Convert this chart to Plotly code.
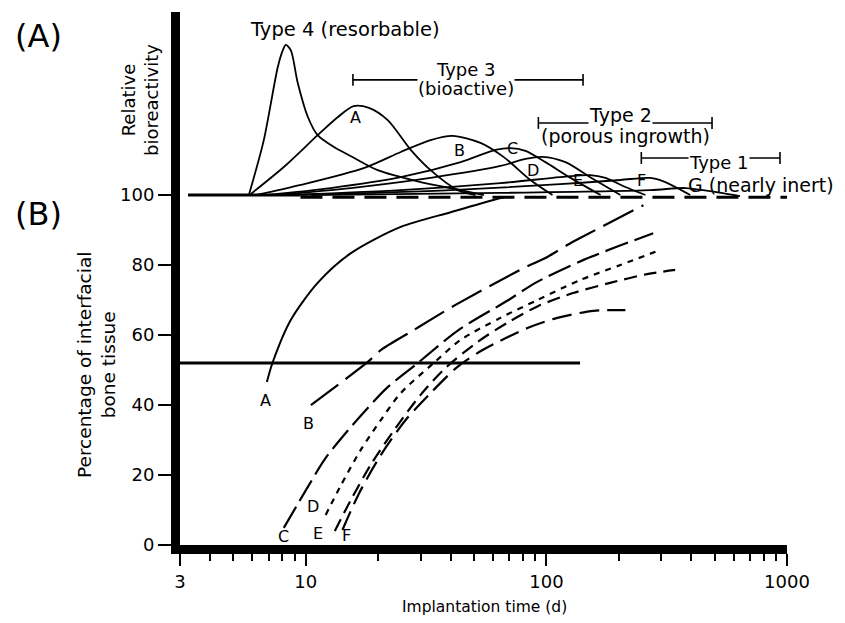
import math
import plotly.graph_objects as go

# ---------------- data ----------------
# Panel A: relative bioactivity curves (x = implantation time in days, y = arbitrary, baseline = 100)
type4_t = [5.8, 6.69, 7.65, 8.03, 8.26, 8.66, 9.26, 10.2, 11.2, 13.1, 15.4, 19.9, 30.0, 44.0, 55.0]
type4_v = [100, 115.7, 136.6, 141.4, 142.9, 141.4, 132, 122.3, 117.1, 113.7, 111.1, 107.1, 103.7, 101.4, 100]

bioA_t = [5.91, 8.10, 11.2, 13.6, 15.8, 18.3, 21.9, 27.3, 33.0, 42.8, 50.8]
bioA_v = [100.3, 108, 117.1, 122.3, 125.4, 124.9, 121.4, 112.9, 107.1, 101.4, 100]

bioB_t = [6.2, 9.53, 17.4, 24.8, 33.0, 40.7, 53.2, 66.3, 85.8, 106]
bioB_v = [100, 102.9, 107.7, 112.3, 115.7, 116.9, 114.9, 110.9, 104.3, 100]

bioC_t = [6.82, 12.7, 24.8, 44.0, 61.4, 70.9, 81.8, 99.1, 126, 168]
bioC_v = [100, 102, 105.1, 109.4, 112.9, 113.4, 112.6, 109.4, 104.9, 100]

bioD_t = [7.51, 15.4, 33.0, 64.4, 81.8, 96.2, 120, 152, 203]
bioD_v = [100, 102, 104.9, 108.3, 110.3, 110.9, 109.4, 105.1, 100]

bioE_t = [8.26, 24.8, 64.4, 114, 152, 176, 213, 258]
bioE_v = [100, 101.4, 103.4, 105.1, 105.7, 104.9, 102.3, 100]

bioF_t = [9.53, 40.0, 114, 203, 270, 312, 396]
bioF_v = [100, 101.4, 103.1, 104.3, 104.9, 103.7, 100]

bioG_t = [10.5, 64.4, 270, 378, 479, 638]
bioG_v = [100, 100.6, 101.4, 102, 101.1, 99.7]

baseline_solid_t = [3.24, 9.5]
baseline_solid_v = [100, 100]
baseline_dash_t = [9.5, 1000]
baseline_dash_v = [99.4, 99.4]

# Type ranges (brackets): [start day, end day, level]
type3_range = [15.7, 142, 132.9]
type2_range = [92.6, 488, 120.6]
type1_range = [248, 935, 110.6]

# Panel B: percentage of interfacial bone tissue
boneA_t = [6.89, 7.29, 8.66, 11.2, 15.4, 24.8, 40.0, 60.3, 67.6]
boneA_v = [46.6, 52.3, 64.3, 74.9, 83.4, 90.9, 95.1, 98.6, 99.4]

boneB_t = [10.5, 18.1, 20.5, 27.3, 34.0, 41.9, 81.8, 99.1, 122, 138, 253]
boneB_v = [40, 52.3, 55.7, 60.9, 64.9, 68.6, 79.4, 82, 85.7, 87.7, 97.1]

boneC_t = [8.10, 10.2, 12.1, 16.6, 21.9, 29.2, 43.1, 69.6, 90.0, 142, 278]
boneC_v = [4.9, 16.6, 24.9, 36.3, 45.1, 52, 61.4, 70, 74.9, 81.4, 89.1]

boneD_t = [12.1, 14.0, 16.9, 20.5, 24.8, 34.0, 44.0, 64.4, 91.8, 138, 203, 297]
boneD_v = [8.6, 17.1, 27.1, 35.7, 43.4, 52, 58.6, 64.9, 70, 75.7, 80, 84.3]

boneE_t = [13.2, 15.4, 18.6, 23.6, 30.0, 38.1, 51.7, 69.6, 92.6, 129, 184, 262, 343]
boneE_v = [4.0, 12.9, 22.9, 33.4, 42.9, 50.6, 58, 63.7, 68.3, 72, 74.9, 77.4, 78.6]

boneF_t = [14.2, 16.6, 20.5, 26.0, 33.0, 42.7, 54.3, 83.4, 111, 157, 213]
boneF_v = [4.3, 14.6, 25.7, 35.7, 43.4, 50.9, 55.7, 62, 64.9, 66.9, 67.1]

bone50_t = [3.0, 138]
bone50_v = [52, 52]

x_tickvals = [3, 10, 100, 1000]
x_ticktext = ["3", "10", "100", "1000"]
x_minor = [4, 5, 6, 7, 8, 9, 20, 30, 40, 50, 60, 70, 80, 90, 200, 300, 400, 500, 600, 700, 800, 900]
y_tickvals = [0, 20, 40, 60, 80, 100]

# ---------------- figure ----------------
FONT = "DejaVu Sans"
OFF = 8                      # page body margin of the html page
W, H = 845 - OFF, 623 - OFF  # figure size so that the page is filled exactly
fig = go.Figure()


def add_line(t, v, width=1.8, dash="solid", shape="spline"):
    fig.add_trace(go.Scatter(
        x=t, y=v, mode="lines",
        line=dict(color="black", width=width, dash=dash, shape=shape,
                  smoothing=0.8 if shape == "spline" else None),
        hoverinfo="skip", showlegend=False))


# panel A
add_line(baseline_solid_t, baseline_solid_v, width=3, shape="linear")
add_line(baseline_dash_t, baseline_dash_v, width=3, dash="22px,10px", shape="linear")
for t, v in [(type4_t, type4_v), (bioA_t, bioA_v), (bioB_t, bioB_v), (bioC_t, bioC_v),
             (bioD_t, bioD_v), (bioE_t, bioE_v), (bioF_t, bioF_v), (bioG_t, bioG_v)]:
    add_line(t, v, width=1.8)

for t0, t1, lev in [type3_range, type2_range, type1_range]:
    fig.add_trace(go.Scatter(
        x=[t0, t0, None, t0, t1, None, t1, t1],
        y=[lev - 1.7, lev + 1.7, None, lev, lev, None, lev - 1.7, lev + 1.7],
        mode="lines", line=dict(color="black", width=1.6),
        hoverinfo="skip", showlegend=False))

# panel B
add_line(bone50_t, bone50_v, width=3, shape="linear")
add_line(boneA_t, boneA_v, width=2)
add_line(boneB_t, boneB_v, width=2.2, dash="34px,9px")
add_line(boneC_t, boneC_v, width=2.2, dash="24px,7px")
add_line(boneD_t, boneD_v, width=2.2, dash="6px,6px")
add_line(boneE_t, boneE_v, width=2.2, dash="13px,7px")
add_line(boneF_t, boneF_v, width=2.2, dash="20px,8px")

# ---------------- text ----------------
# plot area in page pixels
L, R, T, B = 180, 787, 12, 545


def px(x):
    return (x - L) / (R - L)


def py(y):
    return (B - y) / (B - T)


annots = []


def note(text, x, y, size, xanchor="center", bg=None, angle=0):
    d = dict(text=text, x=px(x), y=py(y), xref="paper", yref="paper",
             xanchor=xanchor, yanchor="middle", showarrow=False,
             font=dict(family=FONT, size=size, color="black"), textangle=angle)
    if bg:
        d["bgcolor"] = bg
        d["borderpad"] = 0
    annots.append(d)


note("(A)", 38, 36, 32)
note("(B)", 38, 214, 32)
note("Relative<br>bioreactivity", 140, 100, 18, angle=-90)
note("Percentage of interfacial<br>bone tissue", 96, 365, 18.5, angle=-90)
note("Implantation time (d)", 484, 607, 15.5)
note("Type 4 (resorbable)", 345, 30, 19.5)
note("(bioactive)", 466, 88, 18, bg="white")
note("Type 3", 466, 70, 18)
note("Type 2", 620, 115, 19, bg="white")
note("(porous ingrowth)", 625, 136, 19)
note("Type 1", 719, 162, 18, bg="white")
note("G (nearly inert)", 686, 185, 19, xanchor="left")
for lab, x, y in [("A", 355, 118), ("B", 459, 150), ("C", 512, 148), ("D", 533, 170),
                  ("E", 578, 181), ("F", 641, 180),
                  ("A", 265, 400), ("B", 308, 423), ("C", 283, 536), ("D", 313, 506),
                  ("E", 318, 533), ("F", 346, 535)]:
    note(lab, x, y, 16)

fig.update_layout(
    width=W, height=H,
    margin=dict(l=L - OFF, r=845 - R, t=T - OFF, b=623 - B),
    paper_bgcolor="white", plot_bgcolor="white",
    font=dict(family=FONT, size=18, color="black"),
    showlegend=False,
    annotations=annots,
    xaxis=dict(type="log", range=[math.log10(3), 3],
               tickmode="array", tickvals=x_tickvals, ticktext=x_ticktext,
               ticks="outside", ticklen=12, tickwidth=2, tickcolor="black",
               showline=True, linewidth=9, linecolor="black",
               showgrid=False, zeroline=False,
               tickfont=dict(family=FONT, size=18),
               minor=dict(tickmode="array", tickvals=x_minor, ticks="outside",
                          ticklen=7, tickwidth=2, tickcolor="black", showgrid=False)),
    yaxis=dict(range=[0, 152.3],
               tickmode="array", tickvals=y_tickvals,
               ticks="outside", ticklen=13, tickwidth=2, tickcolor="black",
               showline=True, linewidth=9, linecolor="black",
               showgrid=False, zeroline=False,
               tickfont=dict(family=FONT, size=18)),
)

fig.write_html("out.html")
